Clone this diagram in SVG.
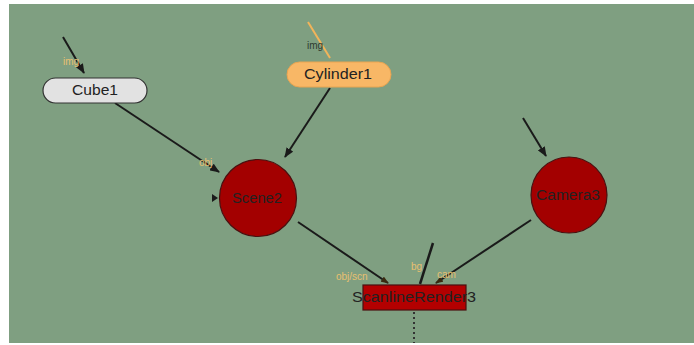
<svg xmlns="http://www.w3.org/2000/svg" width="694" height="345" viewBox="0 0 694 345">
<defs>
<style>
.lbl{font-family:"Liberation Sans",Arial,sans-serif;font-size:14px;fill:#222}
.port{font-family:"Liberation Sans",Arial,sans-serif;font-size:10px;fill:#e8c070}
.e{stroke:#1a1a1a;stroke-width:2;fill:none;marker-end:url(#ah)}
.circ{fill:#a30000;stroke:#4a1010;stroke-width:1.2}
</style>
<marker id="ah" markerWidth="10" markerHeight="8" refX="9" refY="4" orient="auto" markerUnits="userSpaceOnUse">
<path d="M0,0 L10,4 L0,8 z" fill="#1a1a1a"/>
</marker>
<marker id="ahs" markerWidth="8" markerHeight="6" refX="7" refY="3" orient="auto" markerUnits="userSpaceOnUse">
<path d="M0,0 L8,3 L0,6 z" fill="#3a2a10"/>
</marker>
</defs>
<rect x="0" y="0" width="694" height="345" fill="#ffffff"/>
<rect x="9" y="4" width="685" height="339" fill="#7f9f81"/>
<g id="connectors">
<line class="e" x1="63" y1="37" x2="84" y2="73"/>
<line x1="308" y1="22" x2="330" y2="58" stroke="#f2b45a" stroke-width="2"/>
<line class="e" x1="115" y1="103" x2="219" y2="172"/>
<line class="e" x1="330" y1="88" x2="285" y2="157"/>
<line class="e" x1="523" y1="118" x2="546" y2="156"/>
<line x1="298" y1="222" x2="388" y2="283" stroke="#1a1a1a" stroke-width="2" marker-end="url(#ahs)"/>
<line x1="531" y1="220" x2="436" y2="283" stroke="#1a1a1a" stroke-width="2" marker-end="url(#ahs)"/>
<line x1="433" y1="243" x2="420" y2="284" stroke="#1a1a1a" stroke-width="2.5"/>
<line x1="414" y1="312" x2="414" y2="343" stroke="#333" stroke-width="2" stroke-dasharray="2,3"/>
<path d="M212,194 L218,198 L212,202 z" fill="#1a1a1a"/>
<text class="port" x="63" y="65">img</text>
<text class="port" x="307" y="49" style="fill:#2e3a30">img</text>
<text class="port" x="199" y="166" font-size="8">obj</text>
<text class="port" x="336" y="280">obj/scn</text>
<text class="port" x="411" y="270">bg</text>
<text class="port" x="437" y="278">cam</text>
</g>
<g id="Cube1">
<rect x="43" y="78" width="104" height="25" rx="12.5" fill="#e2e2e2" stroke="#333" stroke-width="1.2"/>
<text class="lbl" x="95" y="95" text-anchor="middle" textLength="46" lengthAdjust="spacingAndGlyphs">Cube1</text>
</g>
<g id="Cylinder1">
<rect x="287" y="62" width="104" height="25" rx="12.5" fill="#f8b766" stroke="#e9a450" stroke-width="1"/>
<text class="lbl" x="338" y="79" text-anchor="middle" textLength="68" lengthAdjust="spacingAndGlyphs">Cylinder1</text>
</g>
<g id="Scene2">
<circle class="circ" cx="258" cy="198" r="38.5"/>
<text class="lbl" x="257" y="203" text-anchor="middle" font-size="13" textLength="50" lengthAdjust="spacingAndGlyphs">Scene2</text>
</g>
<g id="Camera3">
<circle class="circ" cx="569" cy="195" r="38"/>
<text class="lbl" x="568" y="200" text-anchor="middle" font-size="13" textLength="64" lengthAdjust="spacingAndGlyphs">Camera3</text>
</g>
<g id="ScanlineRender3">
<rect x="363" y="285" width="103" height="25" fill="#b30000" stroke="#4a1010" stroke-width="1.2"/>
<text class="lbl" x="414" y="302" text-anchor="middle" textLength="124" lengthAdjust="spacingAndGlyphs">ScanlineRender3</text>
</g>
</svg>
